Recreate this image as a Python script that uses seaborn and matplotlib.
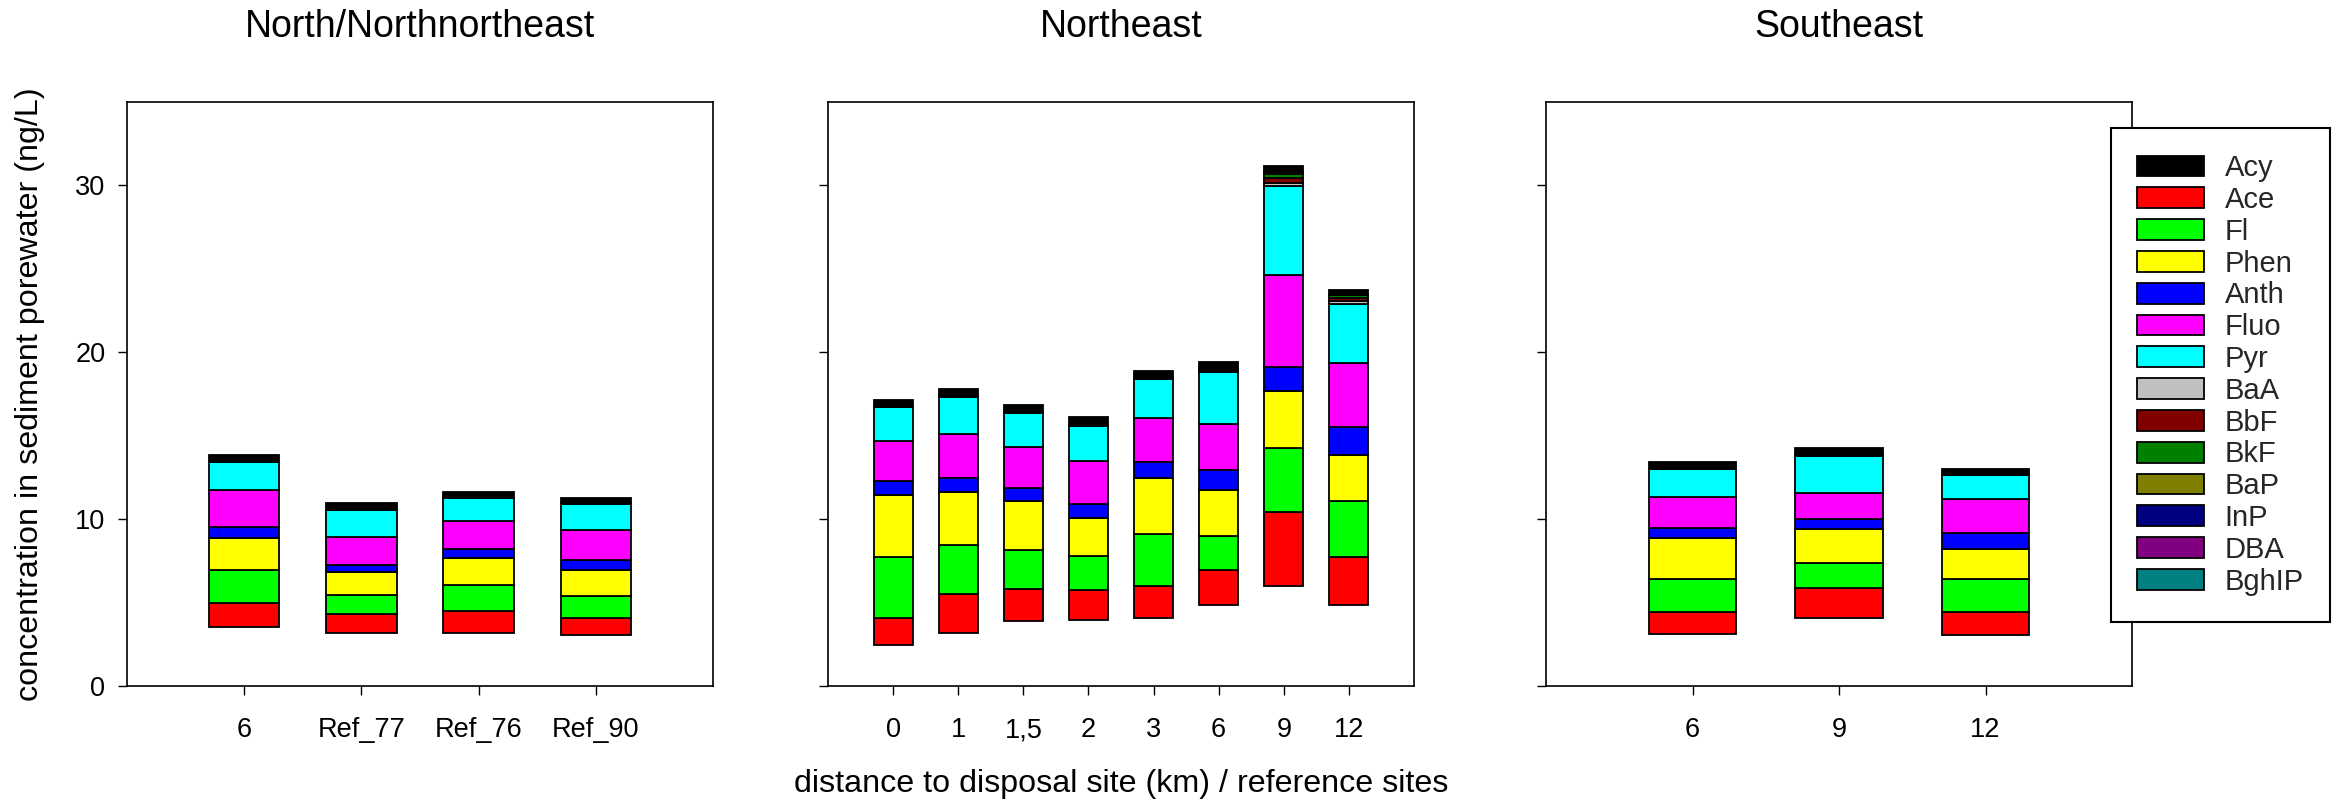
import numpy as np
import pandas as pd
import matplotlib
matplotlib.use("Agg")
import matplotlib.pyplot as plt
import seaborn as sns
from matplotlib.patches import Patch

# ---------------- data ----------------
panel_titles = ["North/Northnortheast", "Northeast", "Southeast"]
panel_sites = [["6", "Ref_77", "Ref_76", "Ref_90"],
               ["0", "1", "1,5", "2", "3", "6", "9", "12"],
               ["6", "9", "12"]]

compounds = ["Acy", "Ace", "Fl", "Phen", "Anth", "Fluo", "Pyr",
             "BaA", "BbF", "BkF", "BaP", "InP", "DBA", "BghIP"]
comp_colors = ["#000000", "#ff0000", "#00ff00", "#ffff00", "#0000ff", "#ff00ff",
               "#00ffff", "#c0c0c0", "#800000", "#008000", "#808000", "#000080",
               "#800080", "#008080"]
stack_order = ["Ace", "Fl", "Phen", "Anth", "Fluo", "Pyr", "BaA", "BbF", "BkF",
               "BaP", "InP", "DBA", "BghIP", "Acy"]

# values per site, in order: 4 N/NNE sites, 8 NE sites, 3 SE sites (ng/L)
offset = [3.52, 3.20, 3.20, 3.08,  2.47, 3.17, 3.91, 3.95, 4.05, 4.86, 5.98, 4.83,  3.12, 4.05, 3.03]
Ace   = [1.43, 1.14, 1.27, 0.97,  1.61, 2.32, 1.92, 1.81, 1.95, 2.07, 4.47, 2.91,  1.30, 1.83, 1.39]
Fl    = [2.03, 1.13, 1.56, 1.37,  3.66, 2.96, 2.35, 2.03, 3.08, 2.03, 3.83, 3.37,  2.02, 1.52, 2.02]
Phen  = [1.86, 1.34, 1.66, 1.51,  3.68, 3.19, 2.88, 2.29, 3.37, 2.78, 3.39, 2.75,  2.40, 2.00, 1.79]
Anth  = [0.66, 0.44, 0.51, 0.61,  0.86, 0.83, 0.80, 0.81, 0.95, 1.22, 1.44, 1.64,  0.61, 0.58, 0.92]
Fluo  = [2.26, 1.68, 1.71, 1.83,  2.41, 2.66, 2.47, 2.58, 2.64, 2.76, 5.52, 3.86,  1.90, 1.61, 2.03]
Pyr   = [1.66, 1.61, 1.34, 1.52,  2.01, 2.20, 2.05, 2.10, 2.34, 3.07, 5.32, 3.56,  1.68, 2.20, 1.46]
BaA   = [0.00, 0.00, 0.00, 0.00,  0.00, 0.00, 0.00, 0.06, 0.05, 0.06, 0.22, 0.15,  0.00, 0.00, 0.00]
BbF   = [0.00, 0.00, 0.00, 0.00,  0.00, 0.07, 0.06, 0.00, 0.00, 0.12, 0.30, 0.20,  0.00, 0.04, 0.00]
BkF   = [0.00, 0.00, 0.00, 0.00,  0.00, 0.07, 0.00, 0.00, 0.00, 0.00, 0.24, 0.15,  0.00, 0.00, 0.00]
BaP   = [0.00, 0.00, 0.00, 0.00,  0.00, 0.00, 0.00, 0.00, 0.00, 0.00, 0.10, 0.04,  0.00, 0.00, 0.00]
InP   = [0.00, 0.00, 0.00, 0.00,  0.00, 0.00, 0.00, 0.00, 0.00, 0.00, 0.00, 0.00,  0.00, 0.00, 0.00]
DBA   = [0.00, 0.00, 0.00, 0.00,  0.00, 0.00, 0.00, 0.00, 0.00, 0.00, 0.00, 0.00,  0.00, 0.00, 0.00]
BghIP = [0.00, 0.00, 0.00, 0.00,  0.00, 0.00, 0.00, 0.00, 0.00, 0.00, 0.00, 0.00,  0.00, 0.00, 0.00]
Acy   = [0.44, 0.42, 0.39, 0.36,  0.46, 0.35, 0.38, 0.48, 0.44, 0.45, 0.33, 0.30,  0.42, 0.42, 0.39]

y_ticks = [0, 10, 20, 30]
y_max = 35

# ---------------- build table ----------------
regions, sites = [], []
for t, s in zip(panel_titles, panel_sites):
    regions += [t] * len(s)
    sites += s
df = pd.DataFrame({"region": regions, "site": sites, "offset": offset,
                   "Acy": Acy, "Ace": Ace, "Fl": Fl, "Phen": Phen, "Anth": Anth,
                   "Fluo": Fluo, "Pyr": Pyr, "BaA": BaA, "BbF": BbF, "BkF": BkF,
                   "BaP": BaP, "InP": InP, "DBA": DBA, "BghIP": BghIP})
color_of = dict(zip(compounds, comp_colors))

# ---------------- style ----------------
sns.set_theme(style="ticks")
plt.rcParams["font.family"] = ["Liberation Sans", "DejaVu Sans"]
plt.rcParams["axes.linewidth"] = 1.2
plt.rcParams["axes.edgecolor"] = "black"

W, H = 2343, 805
fig = plt.figure(figsize=(W / 100, H / 100), dpi=100)
ax_left = [127, 828, 1546]
ax_w, ax_top, ax_bot = 586, 102, 686

tick_fs = 19.5
for i, (title, slist) in enumerate(zip(panel_titles, panel_sites)):
    ax = fig.add_axes([ax_left[i] / W, (H - ax_bot) / H, ax_w / W, (ax_bot - ax_top) / H])
    sub = df[df["region"] == title].reset_index(drop=True)
    bottom = sub["offset"].to_numpy().copy()
    for comp in stack_order:
        sns.barplot(data=sub, x="site", y=comp, order=slist, ax=ax,
                    color=color_of[comp], saturation=1, width=0.6,
                    errorbar=None, bottom=bottom, edgecolor="black",
                    linewidth=1.3)
        bottom = bottom + sub[comp].to_numpy()
    ax.set_xlim(-1, len(slist))
    ax.set_ylim(0, y_max)
    ax.set_yticks(y_ticks)
    ax.set_xlabel("")
    ax.set_ylabel("")
    for sp in ax.spines.values():
        sp.set_visible(True)
        sp.set_color("black")
        sp.set_linewidth(1.2)
    ax.tick_params(axis="both", direction="out", length=6.5, width=1.0,
                   color="black", labelsize=tick_fs, labelcolor="black")
    ax.tick_params(axis="x", pad=16)
    ax.tick_params(axis="y", pad=9)
    if i > 0:
        ax.set_yticklabels([])
    ax.grid(False)
    fig.text((ax_left[i] + ax_w / 2) / W, 1 - 27 / H, title, ha="center",
             va="center", fontsize=27, color="black")

fig.text(30 / W, 1 - 394 / H, "concentration in sediment porewater (ng/L)",
         rotation=90, ha="center", va="center", fontsize=23.2, color="black")
fig.text(1121 / W, 1 - 784 / H, "distance to disposal site (km) / reference sites",
         ha="center", va="center", fontsize=23.2, color="black")

handles = [Patch(facecolor=c, edgecolor="black", linewidth=1.3) for c in comp_colors]
leg = fig.legend(handles, compounds, loc="upper left",
                 bbox_to_anchor=(2111 / W, 1 - 128 / H), borderaxespad=0,
                 fontsize=21, frameon=True, fancybox=False, shadow=False,
                 handlelength=2.3, handleheight=0.72, handletextpad=0.7,
                 labelspacing=0.13, borderpad=0.9)
leg.get_frame().set_edgecolor("black")
leg.get_frame().set_linewidth(1.5)
leg.get_frame().set_alpha(1)

fig.savefig("out.png", dpi=100, facecolor="white")
